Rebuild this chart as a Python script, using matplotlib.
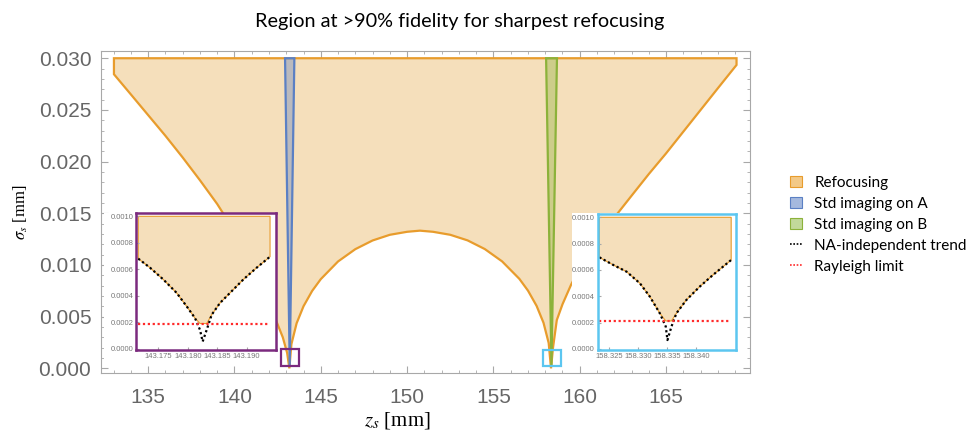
import numpy as np
import matplotlib.pyplot as plt
from matplotlib.patches import Patch, Rectangle
from matplotlib.lines import Line2D
from matplotlib.ticker import MultipleLocator

plt.rcParams['mathtext.fontset'] = 'stix'

# main plot: boundary of the refocusing region (z in mm, sigma in mm)
sigma_top = 0.030
left_z = [133.02, 134.0, 135.0, 136.0, 137.0, 138.0, 139.0, 139.33, 140.0, 141.0, 141.8, 142.4, 142.8, 143.05, 143.18]
left_s = [0.02845, 0.0265, 0.0245, 0.0225, 0.0204, 0.0182, 0.0159, 0.01503, 0.0133, 0.0106, 0.0080, 0.00467, 0.0030, 0.0015, 0.0]
arch_z = [143.3, 143.6, 144.0, 144.5, 145.0, 146.0, 147.0, 148.0, 149.0, 150.0, 150.74,
          151.5, 152.5, 153.5, 154.5, 155.5, 156.5, 157.0, 157.5, 157.9, 158.2]
arch_s = [0.00235, 0.00436, 0.00601, 0.00749, 0.00863, 0.01034, 0.01153, 0.01237, 0.01292, 0.01321, 0.01332,
          0.01321, 0.01292, 0.01238, 0.01154, 0.01035, 0.00866, 0.00752, 0.00604, 0.00441, 0.00245]
right_z = [158.335, 158.45, 158.67, 159.0, 159.5, 160.0, 161.0, 162.21, 163.0, 164.0, 165.0, 166.0, 167.0, 168.0, 169.08]
right_s = [0.0, 0.0020, 0.00467, 0.0062, 0.0081, 0.0097, 0.0124, 0.01503, 0.0167, 0.0188, 0.0208, 0.0229, 0.0250, 0.0271, 0.02935]

# standard imaging spikes: (top-left z, top-right z, tip z, tip sigma)
spike_a = [142.93, 143.47, 143.20, 0.0003]
spike_b = [158.05, 158.68, 158.36, 0.0003]

# zoom markers on the main plot (z0, z1, s0, s1)
box_a = [142.67, 143.75, 0.00022, 0.00184]
box_b = [157.88, 158.89, 0.00025, 0.00177]

# inset A data
ina_z = [143.1716, 143.17359, 143.17585, 143.17811, 143.17981, 143.18123, 143.18208, 143.18253,
         143.18321, 143.18406, 143.18547, 143.18717, 143.18943, 143.1917, 143.19396]
ina_s = [0.000681, 0.000613, 0.000524, 0.000423, 0.000322, 0.000233, 0.000144, 0.000056,
         0.000144, 0.000258, 0.000347, 0.000423, 0.000524, 0.000613, 0.000696]
ina_rayleigh = 0.000192
ina_xticks = [143.175, 143.180, 143.185, 143.190]

# inset B data
inb_z = [158.32328, 158.32569, 158.32799, 158.33029, 158.33201, 158.33374, 158.33477, 158.33506,
         158.33575, 158.33661, 158.33833, 158.34063, 158.34293, 158.34609]
inb_s = [0.000696, 0.000638, 0.000587, 0.000499, 0.000398, 0.000271, 0.000170, 0.000068,
         0.000170, 0.000271, 0.000372, 0.000473, 0.000562, 0.000676]
inb_rayleigh = 0.000213
inb_xticks = [158.325, 158.330, 158.335, 158.340]
inset_top = 0.001

c_fill = '#f5dfbb'
c_edge = '#e89c2c'
c_blue = '#5b80c4'
c_green = '#8cb23a'
c_purple = '#7b2a7e'
c_cyan = '#5cc6f0'
c_frame = '#a8a8a8'
c_tick = '#666666'

fig = plt.figure(figsize=(9.69, 4.38), dpi=100)
ax = fig.add_axes([101 / 969, 1 - 373 / 438, 649 / 969, 322 / 438])

poly_z = [left_z[0]] + left_z + arch_z + right_z + [right_z[-1]]
poly_s = [sigma_top] + left_s + arch_s + right_s + [sigma_top]
ax.fill(poly_z, poly_s, facecolor=c_fill, edgecolor=c_edge, lw=1.6, zorder=2)

for sp, col in [(spike_a, c_blue), (spike_b, c_green)]:
    ax.fill([sp[0], sp[1], sp[2]], [sigma_top, sigma_top, sp[3]], facecolor=col, alpha=0.38,
            edgecolor='none', zorder=3)
    ax.fill([sp[0], sp[1], sp[2]], [sigma_top, sigma_top, sp[3]], facecolor='none',
            edgecolor=col, lw=1.6, zorder=4)

for bx, col in [(box_a, c_purple), (box_b, c_cyan)]:
    ax.add_patch(Rectangle((bx[0], bx[2]), bx[1] - bx[0], bx[3] - bx[2], facecolor='none',
                           edgecolor=col, lw=1.6, zorder=5))

ax.set_xlim(132.27, 169.86)
ax.set_ylim(-0.00045, 0.0307)
ax.xaxis.set_major_locator(MultipleLocator(5))
ax.xaxis.set_minor_locator(MultipleLocator(1))
ax.yaxis.set_major_locator(MultipleLocator(0.005))
ax.yaxis.set_minor_locator(MultipleLocator(0.001))
ax.yaxis.set_major_formatter(lambda v, p: f'{v:.3f}')
ax.tick_params(which='both', direction='in', top=True, right=True, color=c_frame,
               labelcolor=c_tick, labelsize=15, labelfontfamily='Liberation Sans')
ax.tick_params(which='major', length=5)
ax.tick_params(which='minor', length=2.5)
ax.tick_params(axis='x', pad=11)
ax.tick_params(axis='y', pad=7)
for s in ax.spines.values():
    s.set_color(c_frame)
ax.set_xlabel(r'$z_s$ [mm]', fontsize=15, family='Liberation Serif')
ax.set_ylabel(r'$\sigma_s$ [mm]', fontsize=12, family='Liberation Serif')
ax.xaxis.set_label_coords((397 - 101) / 649, -0.115)
ax.yaxis.set_label_coords(-0.11, 0.5)

fig.text(460 / 969, 1 - 22 / 438, 'Region at >90% fidelity for sharpest refocusing',
         ha='center', va='center', fontsize=14.3, family='Lato')


def draw_inset(rect, bg, zs, ss, ray, xlim, ticks, frame_col):
    fig.add_artist(Rectangle((bg[0] / 969, 1 - bg[3] / 438), (bg[2] - bg[0]) / 969,
                             (bg[3] - bg[1]) / 438, transform=fig.transFigure,
                             facecolor='white', edgecolor='none', zorder=1))
    ins = fig.add_axes(rect)
    ins.set_zorder(2)
    low = np.maximum(np.array(ss), ray)
    ins.fill([zs[0]] + list(zs) + [zs[-1]], [inset_top] + list(low) + [inset_top],
             facecolor=c_fill, edgecolor=c_edge, lw=0.8)
    ins.plot(zs, ss, color='black', ls=(0, (1, 1.2)), lw=1.6)
    ins.plot([zs[0], zs[-1]], [ray, ray], color='#ff2a2a', ls=(0, (1, 1.2)), lw=1.6)
    ins.set_xlim(*xlim)
    ins.set_ylim(-0.0000076, 0.001025)
    ins.set_xticks(ticks)
    ins.set_xticklabels([f'{t:.3f}' for t in ticks])
    ins.yaxis.set_major_locator(MultipleLocator(0.0002))
    ins.yaxis.set_major_formatter(lambda v, p: f'{v:.4f}')
    ins.tick_params(which='both', direction='in', length=2, color=c_frame, labelcolor='#777777',
                    labelsize=5.5, pad=2, labelfontfamily='Liberation Sans')
    for s in ins.spines.values():
        s.set_color(frame_col)
        s.set_linewidth(1.8)


draw_inset([136 / 969, 1 - 350 / 438, 140 / 969, 137 / 438], (104, 213, 276, 362),
           ina_z, ina_s, ina_rayleigh, (143.17122, 143.19497), ina_xticks, c_purple)
draw_inset([597.7 / 969, 1 - 350 / 438, 138 / 969, 136 / 438], (572, 213, 736, 362),
           inb_z, inb_s, inb_rayleigh, (158.32299, 158.34687), inb_xticks, c_cyan)

handles = [
    Patch(facecolor='#f3c987', edgecolor=c_edge, lw=0.8, label='Refocusing'),
    Patch(facecolor='#a5b9de', edgecolor=c_blue, lw=0.8, label='Std imaging on A'),
    Patch(facecolor='#c2d99a', edgecolor=c_green, lw=0.8, label='Std imaging on B'),
    Line2D([], [], color='black', ls=(0, (1, 1)), lw=1.2, label='NA-independent trend'),
    Line2D([], [], color='#ff2a2a', ls=(0, (1, 1)), lw=1.2, label='Rayleigh limit'),
]
fig.legend(handles=handles, loc='upper left', bbox_to_anchor=(776 / 969, 1 - 162 / 438),
           frameon=False, handlelength=0.8, handleheight=0.8,
           handletextpad=0.8, labelspacing=0.45, prop={'family': 'Lato', 'size': 11})

fig.savefig('out.png', dpi=100)
